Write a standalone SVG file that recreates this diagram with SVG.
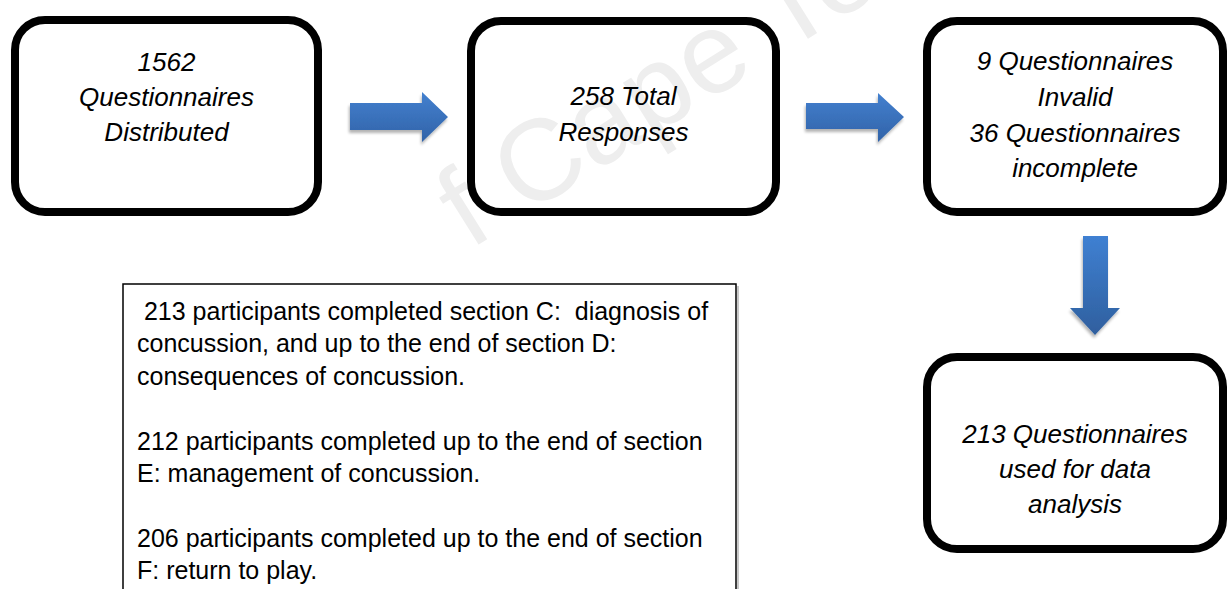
<svg xmlns="http://www.w3.org/2000/svg" width="1228" height="589" viewBox="0 0 1228 589">
  <style>
    .box { fill: none; stroke: #000; stroke-width: 8; }
    .lbl { font-family: "Liberation Sans", Arial, sans-serif; font-style: italic; font-size: 26px; fill: #000; text-anchor: middle; }
    .note { font-family: "Liberation Sans", Arial, sans-serif; font-size: 25px; fill: #000; }
    .wm { font-family: "Liberation Sans", Arial, sans-serif; font-size: 115px; fill: #eeeeee; }
  </style>
  <defs>
    <linearGradient id="gh" x1="0" y1="0" x2="0" y2="1">
      <stop offset="0" stop-color="#4380cf"/>
      <stop offset="1" stop-color="#3163a8"/>
    </linearGradient>
    <linearGradient id="gv" x1="0" y1="0" x2="0" y2="1">
      <stop offset="0" stop-color="#3f80d2"/>
      <stop offset="1" stop-color="#2f5f9e"/>
    </linearGradient>
    <filter id="sh" x="-20%" y="-20%" width="140%" height="150%">
      <feGaussianBlur in="SourceAlpha" stdDeviation="1.5"/>
      <feOffset dx="-1" dy="3" result="b"/>
      <feComponentTransfer><feFuncA type="linear" slope="0.3"/></feComponentTransfer>
      <feMerge><feMergeNode/><feMergeNode in="SourceGraphic"/></feMerge>
    </filter>
  </defs>
  <rect width="1228" height="589" fill="#fff"/>

  <text class="wm" transform="translate(470,250) rotate(-32)" xml:space="preserve">f Cape Tow</text>

  <g id="node-distributed">
    <rect class="box" x="15" y="20" width="303" height="192" rx="30"/>
    <text class="lbl" x="166.5" y="71">1562</text>
    <text class="lbl" x="166.5" y="106">Questionnaires</text>
    <text class="lbl" x="166.5" y="141">Distributed</text>
  </g>
  <g id="node-responses">
    <rect class="box" x="471" y="21" width="305" height="191" rx="30"/>
    <text class="lbl" x="623.5" y="105">258 Total</text>
    <text class="lbl" x="623.5" y="141">Responses</text>
  </g>
  <g id="node-excluded">
    <rect class="box" x="927" y="21" width="296" height="191" rx="30"/>
    <text class="lbl" x="1075" y="70">9 Questionnaires</text>
    <text class="lbl" x="1075" y="106">Invalid</text>
    <text class="lbl" x="1075" y="142">36 Questionnaires</text>
    <text class="lbl" x="1075" y="177">incomplete</text>
  </g>
  <g id="node-used">
    <rect class="box" x="927" y="357" width="296" height="192" rx="30"/>
    <text class="lbl" x="1075" y="443">213 Questionnaires</text>
    <text class="lbl" x="1075" y="478">used for data</text>
    <text class="lbl" x="1075" y="513">analysis</text>
  </g>
  <g id="node-note">
    <rect x="123" y="284" width="613" height="320" fill="#fff" stroke="#000" stroke-width="1.5"/>
    <line x1="738" y1="286" x2="738" y2="589" stroke="#c8c8c8" stroke-width="2"/>
    <text class="note" x="137" y="320" xml:space="preserve"> 213 participants completed section C:  diagnosis of</text>
    <text class="note" x="137" y="352">concussion, and up to the end of section D:</text>
    <text class="note" x="137" y="385">consequences of concussion.</text>
    <text class="note" x="137" y="450">212 participants completed up to the end of section</text>
    <text class="note" x="137" y="482">E: management of concussion.</text>
    <text class="note" x="137" y="547">206 participants completed up to the end of section</text>
    <text class="note" x="137" y="579">F: return to play.</text>
  </g>

  <g id="connectors" filter="url(#sh)">
    <path d="M350,103 H422 V92 L448,117 L422,142 V130 H350 Z" fill="url(#gh)"/>
    <path d="M806,103 H878 V93 L904,117 L878,142 V129 H806 Z" fill="url(#gh)"/>
    <path d="M1083,236 H1108 V308 H1120 L1095,335 L1070,308 H1083 Z" fill="url(#gv)"/>
  </g>
</svg>
